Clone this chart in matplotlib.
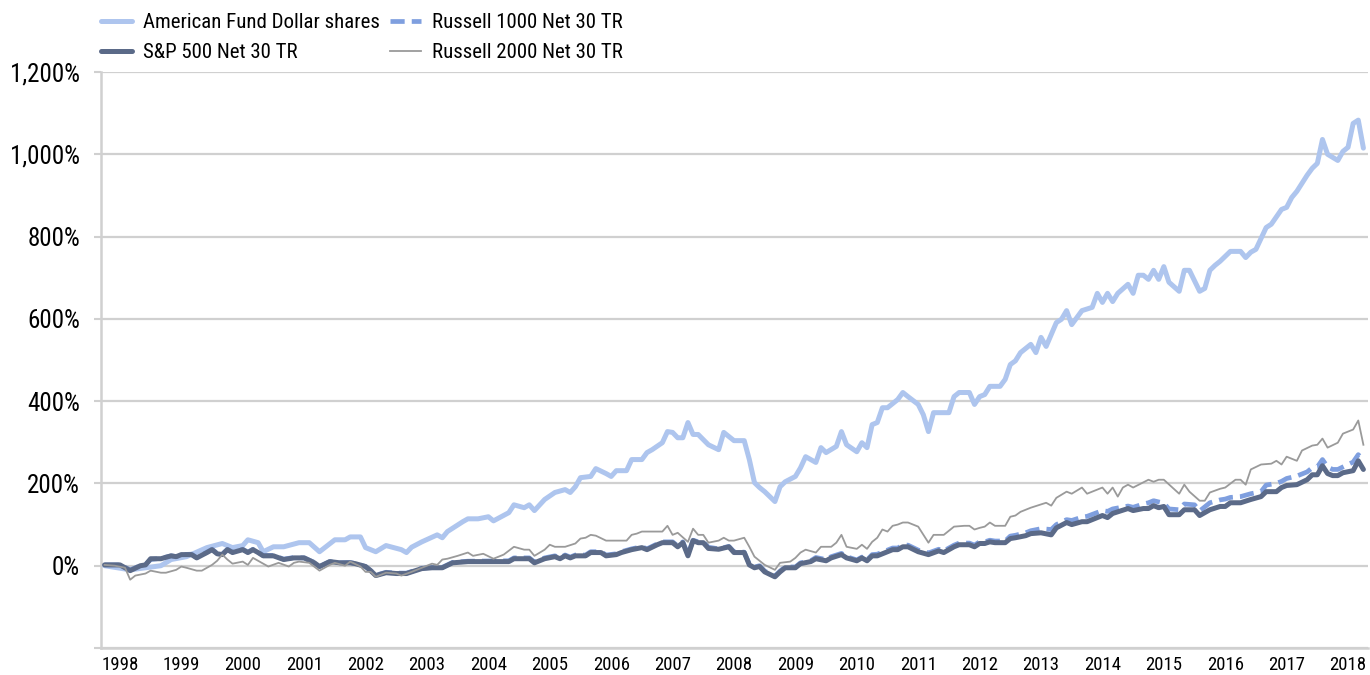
import numpy as np
import matplotlib
matplotlib.use("Agg")
import matplotlib.pyplot as plt
from matplotlib import font_manager

# ---------------- data (months counted from Jan 1998) ----------------
fund_months = [-3, 2, 8, 10, 13, 17, 20, 22, 24, 25, 27, 28, 30, 32, 35, 37, 39, 42, 44, 45,
               47, 48, 50, 52, 55, 56, 57, 59, 62, 63, 64, 67, 68, 70, 72, 73, 76, 77, 79, 80,
               81, 83, 85, 87, 88, 89, 90, 92, 93, 95, 96, 97, 99, 100, 102, 103, 104, 106, 107, 108,
               109, 110, 111, 112, 113, 115, 117, 118, 120, 122, 123, 124, 125, 126, 128, 129, 130, 132, 133, 134,
               136, 137, 138, 140, 141, 142, 144, 145, 146, 147, 148, 149, 150, 152, 153, 154, 156, 157, 158, 159,
               162, 163, 164, 166, 167, 168, 169, 170, 172, 173, 174, 175, 176, 178, 179, 180, 181, 183, 184, 185,
               186, 188, 190, 191, 192, 193, 194, 195, 197, 198, 199, 200, 201, 202, 203, 204, 205, 207, 208, 209,
               211, 212, 213, 214, 215, 217, 219, 220, 221, 222, 224, 225, 227, 228, 229, 230, 232, 233, 234, 235,
               236, 238, 239, 240, 241, 242, 243]
fund_values = [0, -10, 0, 15, 22, 44, 54, 44, 49, 63, 56, 34, 46, 46, 56, 56, 34, 63, 63, 70,
               70, 44, 34, 49, 39, 32, 45, 58, 75, 68, 83, 107, 114, 114, 119, 109, 129, 148, 141, 148,
               134, 161, 178, 185, 178, 192, 214, 217, 236, 224, 217, 231, 231, 258, 258, 275, 282, 299, 326, 324,
               311, 311, 348, 319, 319, 294, 282, 324, 304, 304, 258, 202, 190, 180, 156, 192, 204, 217, 238, 265,
               251, 287, 275, 290, 326, 294, 277, 299, 287, 343, 348, 384, 384, 404, 421, 411, 392, 367, 326, 372,
               372, 411, 421, 421, 392, 411, 416, 436, 436, 453, 489, 498, 518, 538, 518, 555, 533, 591, 599, 620,
               586, 620, 628, 662, 640, 662, 642, 662, 684, 662, 706, 706, 696, 718, 696, 727, 689, 667, 718, 718,
               667, 674, 718, 730, 740, 764, 764, 749, 762, 769, 822, 830, 866, 871, 895, 910, 949, 966, 978, 1036,
               1000, 985, 1007, 1017, 1075, 1083, 1015]

index_months = [-3, 0, 2, 4, 5, 6, 8, 10, 11, 12, 14, 15, 17, 18, 19, 20, 21, 22, 24, 25,
                26, 27, 28, 30, 32, 34, 36, 38, 39, 41, 43, 45, 46, 48, 49, 50, 52, 54, 56, 57,
                59, 61, 63, 65, 68, 76, 77, 80, 81, 83, 85, 86, 87, 88, 89, 91, 92, 94, 95, 97,
                98, 100, 102, 103, 105, 106, 108, 109, 110, 111, 112, 113, 114, 115, 117, 119, 120, 122, 123, 124,
                125, 126, 128, 129, 130, 132, 133, 135, 136, 138, 139, 141, 142, 144, 145, 146, 147, 148, 150, 151,
                152, 153, 154, 156, 158, 160, 161, 163, 164, 166, 167, 168, 169, 170, 171, 173, 174, 175, 177, 178,
                180, 182, 183, 185, 186, 188, 189, 192, 193, 194, 197, 198, 200, 201, 202, 203, 204, 205, 207, 208,
                210, 211, 213, 215, 216, 217, 219, 221, 223, 224, 226, 227, 228, 230, 232, 233, 234, 235, 236, 237,
                238, 239, 241, 242, 243]
sp500_values = [2, 2, -12, 0, 2, 17, 17, 24, 22, 27, 27, 19, 32, 39, 29, 27, 39, 32, 39, 32,
                39, 32, 24, 24, 15, 19, 19, 7, -2, 10, 7, 7, 5, -2, -12, -24, -17, -19, -19, -15,
                -7, -5, -5, 7, 10, 10, 17, 17, 7, 17, 22, 17, 24, 19, 24, 24, 32, 32, 24, 27,
                32, 39, 44, 39, 51, 56, 56, 46, 56, 24, 61, 56, 56, 42, 40, 46, 32, 32, 2, -5,
                -2, -15, -27, -15, -5, -5, 5, 10, 17, 12, 19, 27, 19, 12, 19, 12, 24, 24, 34, 39,
                39, 46, 46, 34, 27, 36, 32, 46, 51, 51, 46, 54, 54, 58, 56, 56, 66, 68, 73, 78,
                80, 75, 92, 105, 100, 107, 107, 122, 117, 127, 139, 134, 139, 139, 146, 141, 144, 124, 124, 136,
                136, 122, 136, 144, 144, 153, 153, 161, 168, 180, 180, 190, 195, 197, 209, 221, 221, 243, 224, 219,
                219, 226, 231, 255, 234]
r1000_values = [2, 2, -10, 0, 3, 15, 18, 24, 22, 27, 28, 20, 33, 40, 30, 28, 40, 33, 40, 33,
                40, 33, 25, 25, 16, 20, 19, 8, -2, 10, 7, 8, 5, -2, -12, -23, -16, -18, -18, -14,
                -6, -4, -4, 8, 11, 12, 19, 19, 9, 19, 24, 19, 26, 21, 26, 26, 34, 34, 26, 29,
                34, 41, 46, 41, 53, 58, 58, 48, 58, 27, 62, 58, 58, 45, 41, 47, 34, 33, 4, -3,
                0, -13, -25, -13, -3, -3, 7, 12, 20, 15, 22, 30, 22, 14, 21, 14, 27, 28, 38, 43,
                43, 50, 50, 38, 31, 40, 36, 50, 55, 55, 50, 58, 58, 62, 60, 60, 72, 74, 80, 85,
                90, 88, 100, 112, 110, 118, 120, 134, 132, 138, 145, 142, 150, 153, 158, 155, 152, 138, 136, 150,
                148, 133, 153, 160, 162, 166, 168, 175, 180, 196, 200, 205, 212, 218, 228, 238, 240, 258, 240, 234,
                234, 240, 252, 270, 255]

r2000_months = [-3, -1, 1, 2, 3, 5, 6, 8, 9, 11, 12, 13, 15, 16, 18, 19, 20, 21, 22, 24,
                25, 26, 27, 29, 31, 33, 34, 35, 37, 39, 41, 42, 44, 45, 47, 48, 49, 50, 52, 54,
                55, 57, 59, 61, 62, 63, 64, 66, 68, 69, 71, 73, 75, 77, 79, 80, 81, 83, 84, 85,
                87, 89, 90, 91, 92, 93, 95, 98, 99, 100, 101, 102, 106, 107, 108, 109, 111, 112, 113, 114,
                115, 117, 118, 119, 120, 122, 123, 124, 125, 126, 128, 129, 131, 132, 133, 134, 136, 137, 139, 140,
                141, 142, 144, 145, 146, 147, 148, 149, 150, 151, 152, 153, 154, 156, 158, 159, 161, 163, 165, 166,
                167, 168, 169, 170, 171, 173, 174, 175, 176, 178, 181, 182, 183, 185, 186, 188, 189, 192, 193, 194,
                195, 196, 197, 198, 201, 202, 203, 204, 207, 208, 209, 211, 212, 213, 215, 216, 218, 219, 220, 221,
                223, 225, 226, 227, 228, 230, 231, 233, 234, 235, 236, 238, 239, 241, 242, 243]
r2000_values = [2, 0, -5, -34, -24, -19, -12, -17, -17, -10, -2, -5, -12, -12, 2, 12, 27, 15, 5, 10,
                2, 19, 12, -2, 7, -2, 7, 10, 7, -12, 2, 7, 0, 10, -2, -15, -15, -27, -17, -19,
                -24, -15, -5, 5, 2, 15, 17, 24, 32, 24, 29, 17, 27, 46, 39, 39, 24, 39, 51, 46,
                46, 54, 66, 68, 75, 73, 61, 61, 61, 75, 78, 83, 83, 97, 75, 80, 58, 90, 75, 75,
                56, 61, 68, 61, 61, 68, 46, 22, 12, 2, -10, 7, 10, 19, 32, 39, 32, 46, 46, 56,
                75, 46, 41, 51, 41, 58, 68, 88, 83, 97, 100, 105, 105, 95, 56, 75, 75, 95, 97, 97,
                88, 92, 95, 105, 97, 97, 119, 122, 131, 141, 153, 146, 165, 180, 175, 190, 175, 190, 175, 190,
                168, 190, 197, 190, 209, 204, 209, 209, 175, 197, 180, 158, 158, 178, 187, 190, 209, 209, 197, 234,
                246, 248, 255, 246, 265, 255, 280, 292, 294, 309, 287, 299, 321, 331, 353, 294]

year_labels = [str(y) for y in range(1998, 2019)]
y_ticks = [-200, 0, 200, 400, 600, 800, 1000, 1200]
series_names = ["American Fund Dollar shares", "Russell 1000 Net 30 TR",
                "S&P 500 Net 30 TR", "Russell 2000 Net 30 TR"]

# ---------------- fonts: prefer a narrow sans like Arial Narrow ----------------
fonts = font_manager.fontManager.ttflist
names = {f.name for f in fonts}
stretch = "normal"
family = "Liberation Sans"
for cand in ["Liberation Sans Narrow", "Arial Narrow", "Roboto Condensed",
             "Open Sans Condensed", "Noto Sans Condensed", "DejaVu Sans Condensed"]:
    if cand in names:
        family = cand
        break
else:
    cond = [f for f in fonts if f.name == "DejaVu Sans" and str(f.stretch) in ("condensed", "semi-condensed")]
    if cond:
        family = "DejaVu Sans"
        stretch = "condensed"
narrow = family != "Liberation Sans"
plt.rcParams["font.family"] = [family, "DejaVu Sans"]
plt.rcParams["font.stretch"] = stretch

ysize = 18 if narrow else 16
xsize = 13.5 if narrow else 12
lsize = 15 if narrow else 13.2

c_fund = "#aec5ee"
c_r1000 = "#7f9fdf"
c_sp = "#5b6a88"
c_r2000 = "#9a9a9a"
c_grid = "#d0d0d0"


def to_year(m):
    return 1998 + np.asarray(m, dtype=float) / 12.0


fig = plt.figure(figsize=(13.7, 6.75), dpi=100)
ax = fig.add_axes([101 / 1370, 1 - 648 / 675, (1368 - 101) / 1370, (648 - 72) / 675])

l1, = ax.plot(to_year(fund_months), fund_values, color=c_fund, lw=3.6,
              solid_joinstyle="round", solid_capstyle="round", zorder=3)
l2, = ax.plot(to_year(index_months), r1000_values, color=c_r1000, lw=3.4,
              dashes=(3.0, 1.5), dash_capstyle="butt", zorder=4)
l3, = ax.plot(to_year(index_months), sp500_values, color=c_sp, lw=3.6,
              solid_joinstyle="round", solid_capstyle="round", zorder=5)
l4, = ax.plot(to_year(r2000_months), r2000_values, color=c_r2000, lw=1.3, zorder=6)

ax.set_ylim(-200, 1200)
ax.set_xlim(to_year(-3.7), to_year(243.9))
ax.set_yticks(y_ticks)
ax.set_yticklabels(["" if v == -200 else f"{v:,}%" for v in y_ticks], fontsize=ysize)
ax.set_xticks(to_year(np.arange(0, 241, 12)))
ax.set_xticklabels(year_labels, fontsize=xsize)

ax.grid(axis="y", color=c_grid, lw=1.6, zorder=0)
ax.set_axisbelow(True)
for s in ["top", "right"]:
    ax.spines[s].set_visible(False)
for s in ["left", "bottom"]:
    ax.spines[s].set_color(c_grid)
    ax.spines[s].set_linewidth(1.8)
ax.tick_params(axis="y", direction="out", length=5, width=1.5, color=c_grid, pad=10)
ax.tick_params(axis="x", length=0, pad=6)

# legend filled column-wise -> order so rows read: Fund | R1000 ; S&P | R2000
fig.legend([l1, l3, l2, l4], [series_names[0], series_names[2], series_names[1], series_names[3]],
           ncol=2, loc="upper left",
           bbox_to_anchor=(101 / 1370, 1 - 13 / 675), frameon=False, fontsize=lsize,
           handlelength=1.5, handletextpad=0.5, columnspacing=0.5, labelspacing=0.55,
           borderpad=0, borderaxespad=0)

fig.savefig("out.png", dpi=100)
